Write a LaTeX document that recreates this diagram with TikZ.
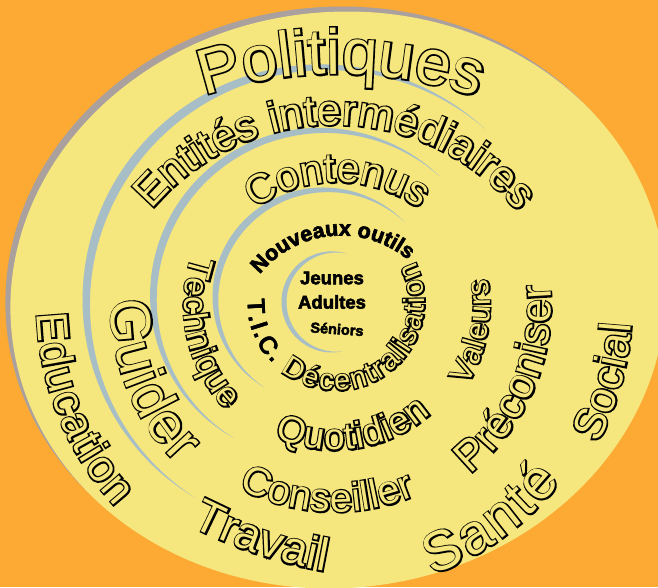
\documentclass[tikz,border=0pt]{standalone}
\usepackage{fontspec}
\setmainfont{Liberation Sans}
\newfontfamily\olA[FakeBold=4.9]{Liberation Sans}
\newfontfamily\olB[FakeBold=7.2]{Liberation Sans}
\newfontfamily\olC[FakeBold=9]{Liberation Sans}
\newfontfamily\olD[FakeBold=10.3]{Liberation Sans}
\newfontfamily\olN[FakeBold=3]{Liberation Sans}
\usetikzlibrary{decorations.text}
\definecolor{bgorange}{RGB}{252,170,52}
\definecolor{ellyellow}{RGB}{245,230,125}
\definecolor{rimgray}{RGB}{170,160,158}
\definecolor{arcblue}{RGB}{168,190,198}
\definecolor{lettfill}{RGB}{245,230,125}
% text along a circular arc, black emboldened pass then fill pass
% #1 black-pass spec, #2 fill-pass spec, #3 cx, #4 cy (screen), #5 radius, #6 start, #7 end
\newcommand\ArcText[7]{%
  \path[shift={(#3,-#4)}, line join=round, decorate,
      decoration={text along path, text align=fit to path, text={#1}}]
      (#6:#5) arc[start angle=#6, end angle=#7, radius=#5];
  \path[shift={(#3,-#4)}, decorate,
      decoration={text along path, text align=fit to path, text={#2}}]
      (#6:#5) arc[start angle=#6, end angle=#7, radius=#5];
}
% outlined text: #1 outline family, #2 size, #3 text, #4 cx, #5 cy, #6 radius, #7 start, #8 end
\newcommand\OText[8]{%
  \ArcText{|#1\fontsize{#2}{#2}\selectfont\color{black}|#3}%
          {|\fontsize{#2}{#2}\selectfont\color{lettfill}|#3}{#4}{#5}{#6}{#7}{#8}}
% crescent arc: #1 cx, #2 cy (screen), #3 t1, #4 t2, #5 r1, #6 r2, #7 max width
\newcommand\Crescent[7]{%
  \pgfmathsetmacro\crk{180/(#4-#3)}%
  \pgfmathsetmacro\crd{(#6-#5)/(#4-#3)}%
  \fill[arcblue] plot[domain=#3:#4, samples=90, variable=\t]
    ({#1 + (#5 + \crd*(\t-#3) + 0.5*#7*sin(\crk*(\t-#3)))*cos(\t)},
     {-#2 + (#5 + \crd*(\t-#3) + 0.5*#7*sin(\crk*(\t-#3)))*sin(\t)})
   -- plot[domain=#4:#3, samples=90, variable=\t]
    ({#1 + (#5 + \crd*(\t-#3) - 0.5*#7*sin(\crk*(\t-#3)))*cos(\t)},
     {-#2 + (#5 + \crd*(\t-#3) - 0.5*#7*sin(\crk*(\t-#3)))*sin(\t)}) -- cycle;
}
\tikzset{
  centre/.style={font=\olN\bfseries\fontsize{18.5}{18.5}\selectfont, text=black, inner sep=0pt}
}
\begin{document}
\begin{tikzpicture}[x=1pt, y=1pt]
\useasboundingbox (0,0) rectangle (658,-587);
\clip (0,0) rectangle (658,-587);
\fill[bgorange] (0,0) rectangle (658,-587);
% disc with grey rim
\fill[rimgray, rotate around={6:(333,-295)}] (333,-295) ellipse [x radius=328, y radius=288];
\fill[ellyellow, rotate around={6:(338,-300)}] (338,-300) ellipse [x radius=328, y radius=288];
% spiral arcs
\Crescent{318}{308}{47}{237}{245}{226}{9}
\Crescent{318}{302}{45.6}{238.2}{175}{160}{8}
\Crescent{322}{302}{44}{236.3}{115}{103}{7}
\Crescent{334}{302}{75}{280}{50}{50}{5}
% ring 1
\OText{\olA}{64}{Politiques}{338}{500}{426}{108.3}{70.9}
\OText{\olB}{44}{Education}{335}{305}{298}{181.6}{222.6}
\OText{\olB}{46}{Travail}{410}{100}{479}{242.8}{259.8}
\OText{\olA}{56}{Santé}{335}{305}{287}{-70.1}{-38.1}
\OText{\olB}{44}{Social}{335}{305}{297}{-27.8}{-3.7}
% ring 2
\OText{\olB}{43}{Entités intermédiaires}{334}{363}{238}{139.9}{39.4}
\OText{\olA}{57}{Guider}{335}{305}{224}{178.8}{225.2}
\OText{\olB}{40}{Conseiller}{335}{305}{207}{242.2}{293}
\OText{\olB}{43}{Préconiser}{335}{305}{216}{-51.4}{5.4}
% ring 3
\OText{\olB}{41}{Contenus}{337}{322}{139.7}{125.9}{54.5}
\OText{\olC}{34}{Technique}{335}{305}{151}{160.9}{224}
\OText{\olC}{37}{Quotidien}{335}{305}{145}{245.3}{311.4}
\OText{\olC}{31}{Valeurs}{335}{305}{155}{-31.3}{9.7}
% ring 4
\path[shift={(341,-340)}, line join=round, decorate,
  decoration={text along path, text align=fit to path,
    text={|\olN\bfseries\fontsize{21.5}{21.5}\selectfont\color{black}|Nouveaux outils}}]
  (141.1:104.4) arc[start angle=141.1, end angle=50.9, radius=104.4];
\ArcText{|\bfseries\fontsize{25}{25}\selectfont\color{black}|T.I.C. |\olD\fontsize{29}{29}\selectfont\color{black}|Décentralisation}%
        {|\bfseries\fontsize{25}{25}\selectfont\color{black}|T.I.C. |\fontsize{29}{29}\selectfont\color{lettfill}|Décentralisation}%
        {336}{302}{88.4}{178.1}{387}
% centre
\node[centre] (jeunes) at (332,-278) {Jeunes};
\node[centre] (adultes) at (332,-302) {Adultes};
\node[centre, font=\olN\bfseries\fontsize{14.5}{14.5}\selectfont, rotate=-4] (seniors) at (337,-329) {Séniors};
\end{tikzpicture}
\end{document}
